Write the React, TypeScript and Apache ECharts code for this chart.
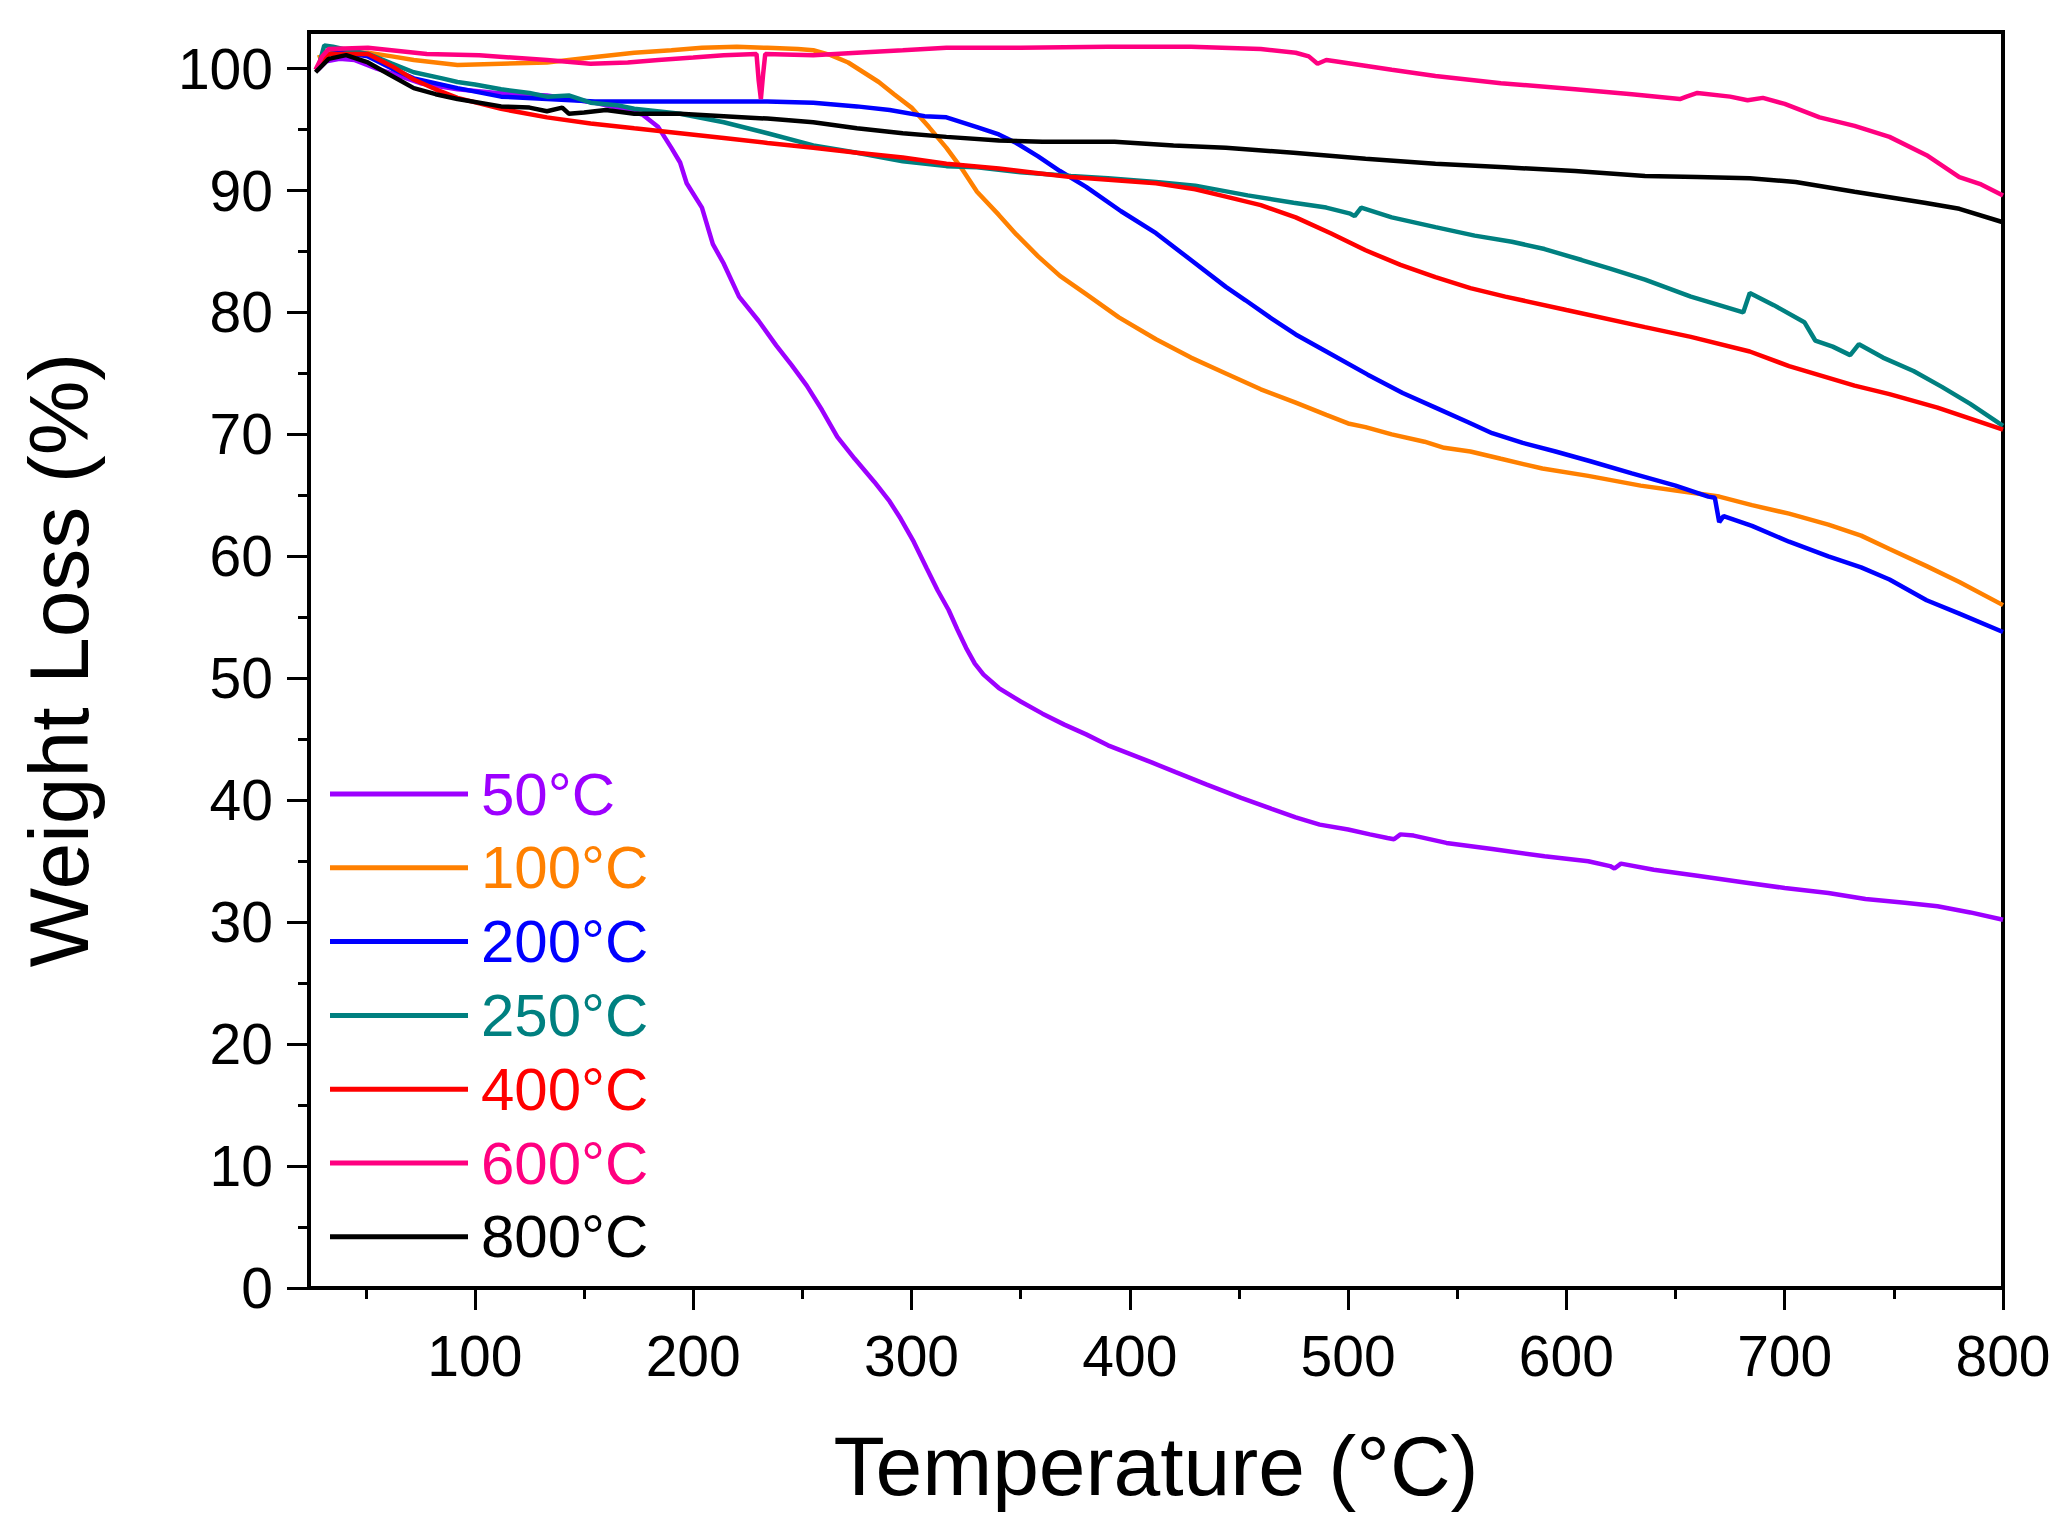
import React, { useEffect, useRef } from "react";
import * as echarts from "echarts";

const seriesNames = ["50°C", "100°C", "200°C", "250°C", "400°C", "600°C", "800°C"];
const seriesColors = ["#9D00FF", "#FF8000", "#0000FF", "#008080", "#FF0000", "#FF0080", "#000000"];

const xMajorTicks = [100, 200, 300, 400, 500, 600, 700, 800];
const xMinorTicks = [50, 150, 250, 350, 450, 550, 650, 750];
const yMajorTicks = [0, 10, 20, 30, 40, 50, 60, 70, 80, 90, 100];
const yMinorTicks = [5, 15, 25, 35, 45, 55, 65, 75, 85, 95];

const s50: [number, number][] = [
  [28, 99.9], [32, 100.6], [38, 100.8], [45, 100.7], [55, 100.0], [62, 99.6], [75, 98.8], [92, 98.3],
  [110, 98.0], [133, 97.8], [155, 97.2], [170, 96.6], [177, 96.2], [184, 95.2], [190, 93.5], [194, 92.3],
  [197, 90.6], [204, 88.6], [209, 85.6], [214, 84.0], [221, 81.3], [230, 79.3], [238, 77.3], [245, 75.7],
  [252, 74.0], [259, 72.0], [266, 69.8], [274, 68.0], [283, 66.1], [290, 64.5], [295, 63.1], [301, 61.2],
  [307, 59.0], [312, 57.2], [317, 55.6], [321, 54.0], [325, 52.5], [329, 51.2], [333, 50.3], [340, 49.2],
  [350, 48.1], [360, 47.1], [370, 46.2], [380, 45.4], [390, 44.5], [400, 43.8], [410, 43.1], [421, 42.3],
  [435, 41.3], [451, 40.2], [465, 39.3], [476, 38.6], [487, 38.0], [500, 37.6], [510, 37.2], [518, 36.9],
  [521, 36.8], [524, 37.2], [530, 37.1], [545, 36.5], [566, 36.0], [590, 35.4], [610, 35.0], [620, 34.6],
  [622, 34.4], [625, 34.8], [640, 34.3], [660, 33.8], [680, 33.3], [700, 32.8], [720, 32.4], [737, 31.9],
  [755, 31.6], [770, 31.3], [785, 30.8], [800, 30.2],
];

const s100: [number, number][] = [
  [28, 100.9], [35, 101.3], [51, 101.3], [62, 101.0], [72, 100.7], [92, 100.3], [112, 100.4], [133, 100.5],
  [153, 100.9], [173, 101.3], [190, 101.5], [204, 101.7], [220, 101.8], [234, 101.7], [248, 101.6],
  [255, 101.5], [263, 101.1], [271, 100.5], [278, 99.7], [285, 98.9], [292, 97.9], [300, 96.8], [308, 95.2],
  [316, 93.5], [323, 91.8], [330, 89.9], [340, 88.0], [348, 86.4], [358, 84.6], [368, 83.0], [380, 81.5],
  [395, 79.6], [412, 77.8], [428, 76.3], [444, 75.0], [460, 73.7], [476, 72.6], [490, 71.6], [500, 70.9],
  [508, 70.6], [520, 70.0], [535, 69.4], [544, 68.9], [556, 68.6], [570, 68.0], [589, 67.2], [610, 66.6],
  [634, 65.8], [650, 65.4], [670, 64.9], [685, 64.2], [702, 63.5], [720, 62.6], [735, 61.7], [748, 60.6],
  [765, 59.2], [780, 57.9], [800, 56.0],
];

const s200: [number, number][] = [
  [28, 100.0], [33, 101.2], [40, 101.3], [51, 101.0], [62, 100.0], [72, 99.2], [92, 98.4], [112, 97.7],
  [133, 97.5], [155, 97.3], [175, 97.3], [200, 97.3], [234, 97.3], [255, 97.2], [275, 96.9], [290, 96.6],
  [306, 96.1], [316, 96.0], [330, 95.2], [340, 94.6], [348, 93.9], [358, 92.8], [368, 91.6], [380, 90.3],
  [396, 88.3], [412, 86.5], [428, 84.3], [444, 82.1], [453, 81.0], [465, 79.5], [476, 78.2], [490, 76.8],
  [509, 74.9], [525, 73.4], [540, 72.2], [555, 71.0], [566, 70.1], [580, 69.3], [595, 68.6], [611, 67.8],
  [630, 66.8], [650, 65.8], [665, 64.9], [668, 64.8], [670, 62.8], [672, 63.3], [685, 62.5], [702, 61.2],
  [720, 60.0], [735, 59.1], [748, 58.1], [765, 56.4], [780, 55.3], [800, 53.8],
];

const s250: [number, number][] = [
  [28, 99.9], [31, 101.9], [35, 101.8], [40, 101.6], [51, 101.2], [62, 100.4], [72, 99.7], [85, 99.2],
  [92, 98.9], [100, 98.7], [112, 98.3], [125, 98.0], [133, 97.7], [143, 97.8], [153, 97.2], [165, 97.0],
  [173, 96.7], [194, 96.3], [214, 95.6], [234, 94.7], [255, 93.7], [275, 93.1], [296, 92.4], [316, 92.0],
  [330, 91.9], [350, 91.5], [373, 91.2], [390, 91.0], [412, 90.7], [430, 90.4], [454, 89.6], [475, 89.0],
  [490, 88.6], [501, 88.1], [503, 87.9], [506, 88.6], [520, 87.8], [540, 87.0], [558, 86.3], [575, 85.8],
  [590, 85.2], [607, 84.3], [620, 83.6], [636, 82.7], [657, 81.3], [670, 80.6], [681, 80.0], [684, 81.6],
  [695, 80.6], [709, 79.2], [714, 77.7], [722, 77.2], [730, 76.5], [734, 77.4], [745, 76.3], [759, 75.2],
  [772, 73.9], [785, 72.5], [800, 70.7],
];

const s400: [number, number][] = [
  [28, 100.0], [33, 101.2], [51, 101.2], [62, 100.2], [72, 99.1], [82, 98.3], [92, 97.6], [112, 96.7],
  [133, 96.0], [153, 95.5], [173, 95.1], [194, 94.7], [214, 94.3], [234, 93.9], [255, 93.5], [275, 93.1],
  [296, 92.7], [316, 92.2], [340, 91.8], [373, 91.1], [412, 90.6], [430, 90.1], [444, 89.5], [460, 88.8],
  [476, 87.8], [492, 86.5], [508, 85.1], [524, 83.9], [540, 82.9], [556, 82.0], [572, 81.3], [600, 80.2],
  [636, 78.8], [657, 78.0], [684, 76.8], [702, 75.6], [732, 74.0], [748, 73.3], [770, 72.2], [800, 70.4],
];

const s600: [number, number][] = [
  [27, 99.9], [30, 101.0], [33, 101.6], [51, 101.7], [78, 101.2], [102, 101.1], [133, 100.7], [153, 100.4],
  [170, 100.5], [184, 100.7], [200, 100.9], [214, 101.1], [229, 101.2], [230, 99.0], [231, 97.5],
  [232, 99.5], [233, 101.2], [255, 101.1], [275, 101.3], [296, 101.5], [316, 101.7], [350, 101.7],
  [390, 101.8], [428, 101.8], [460, 101.6], [476, 101.3], [482, 101.0], [486, 100.4], [490, 100.7],
  [494, 100.6], [520, 99.9], [540, 99.4], [570, 98.8], [604, 98.3], [630, 97.9], [652, 97.5], [655, 97.7],
  [660, 98.0], [675, 97.7], [683, 97.4], [690, 97.6], [700, 97.1], [716, 96.0], [732, 95.3], [748, 94.4],
  [765, 92.9], [780, 91.1], [790, 90.5], [800, 89.6],
];

const s800: [number, number][] = [
  [27, 99.7], [33, 100.8], [41, 101.1], [51, 100.5], [61, 99.5], [72, 98.4], [82, 97.9], [92, 97.5],
  [112, 96.9], [125, 96.8], [133, 96.5], [140, 96.8], [143, 96.3], [150, 96.4], [160, 96.6], [173, 96.3],
  [194, 96.3], [214, 96.1], [234, 95.9], [255, 95.6], [275, 95.1], [296, 94.7], [316, 94.4], [340, 94.1],
  [360, 94.0], [393, 94.0], [420, 93.7], [444, 93.5], [475, 93.1], [508, 92.6], [540, 92.2], [572, 91.9],
  [604, 91.6], [636, 91.2], [660, 91.1], [684, 91.0], [705, 90.7], [732, 89.9], [764, 89.0], [780, 88.5],
  [800, 87.4],
];

const seriesData = [s50, s100, s200, s250, s400, s600, s800];

const FONT = "'Liberation Sans', Arial, Helvetica, sans-serif";

export default function App() {
  const ref = useRef<HTMLDivElement>(null);

  useEffect(() => {
    if (!ref.current) return;
    const chart = echarts.init(ref.current, null, { renderer: "svg" });
    const axisLineStyle = { color: "#000", width: 4 };
    const option = {
      animation: false,
      backgroundColor: "#fff",
      grid: {
        left: 309,
        right: 66,
        top: 32,
        bottom: 248,
        show: true,
        borderColor: "#000",
        borderWidth: 4,
        backgroundColor: "transparent",
      },
      legend: {
        orient: "vertical",
        left: 325,
        top: 759,
        itemWidth: 138,
        itemHeight: 5,
        itemGap: 13.8,
        icon: "rect",
        textStyle: {
          fontSize: 60,
          lineHeight: 60,
          fontFamily: FONT,
          padding: [0, 0, 0, 8],
        },
        data: seriesNames.map((n, i) => ({ name: n, textStyle: { color: seriesColors[i] } })),
      },
      xAxis: [
        {
          type: "value",
          min: 24,
          max: 800,
          position: "bottom",
          name: "Temperature (°C)",
          nameLocation: "middle",
          nameGap: 136,
          nameTextStyle: { fontSize: 84, fontFamily: FONT, color: "#000" },
          axisLine: { show: true, lineStyle: axisLineStyle },
          axisTick: { show: true, inside: false, length: 22, customValues: xMajorTicks, lineStyle: { color: "#000", width: 3 } },
          axisLabel: { customValues: xMajorTicks, fontSize: 57, fontFamily: FONT, color: "#000", margin: 39 },
          splitLine: { show: false },
        },
        {
          type: "value",
          min: 24,
          max: 800,
          position: "bottom",
          axisLine: { show: false },
          axisTick: { show: true, inside: false, length: 11, customValues: xMinorTicks, lineStyle: { color: "#000", width: 3 } },
          axisLabel: { show: false },
          splitLine: { show: false },
        },
      ],
      yAxis: [
        {
          type: "value",
          min: 0,
          max: 103,
          position: "left",
          name: "Weight Loss (%)",
          nameLocation: "middle",
          nameGap: 208,
          nameRotate: 90,
          nameTextStyle: { fontSize: 84, fontFamily: FONT, color: "#000" },
          axisLine: { show: true, lineStyle: axisLineStyle },
          axisTick: { show: true, inside: false, length: 22, customValues: yMajorTicks, lineStyle: { color: "#000", width: 3 } },
          axisLabel: { customValues: yMajorTicks, fontSize: 57, fontFamily: FONT, color: "#000", margin: 36 },
          splitLine: { show: false },
        },
        {
          type: "value",
          min: 0,
          max: 103,
          position: "left",
          axisLine: { show: false },
          axisTick: { show: true, inside: false, length: 11, customValues: yMinorTicks, lineStyle: { color: "#000", width: 3 } },
          axisLabel: { show: false },
          splitLine: { show: false },
        },
      ],
      series: seriesNames.map((n, i) => ({
        name: n,
        type: "line",
        xAxisIndex: 0,
        yAxisIndex: 0,
        data: seriesData[i],
        showSymbol: false,
        symbol: "none",
        color: seriesColors[i],
        lineStyle: { color: seriesColors[i], width: 4.5 },
        itemStyle: { color: seriesColors[i] },
        z: 2 + i,
      })),
    };
    chart.setOption(option as any);
    return () => chart.dispose();
  }, []);

  return (
    <div
      ref={ref}
      style={{ position: "fixed", left: 0, top: 0, width: "2069px", height: "1536px", background: "#fff" }}
    />
  );
}
